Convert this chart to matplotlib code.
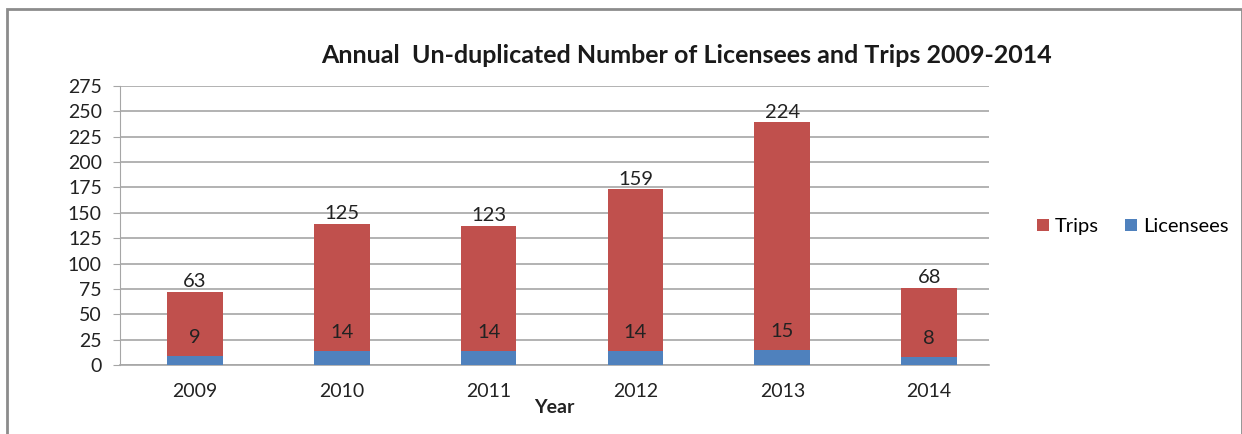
import matplotlib
matplotlib.use('Agg')
import matplotlib.pyplot as plt
from matplotlib.patches import Rectangle
import numpy as np

plt.rcParams['font.family'] = ['Lato', 'DejaVu Sans']

years = ['2009', '2010', '2011', '2012', '2013', '2014']
licensees = [9, 14, 14, 14, 15, 8]
trips = [63, 125, 123, 159, 224, 68]

RED = '#C0504D'
BLUE = '#4F81BD'
GRID = '#A6A6A6'

fig = plt.figure(figsize=(12.42, 4.34), dpi=100)
fig.patch.set_facecolor('white')
ax = fig.add_axes([0.0966, 0.159, 0.700, 0.643])

x = np.arange(len(years))
ax.bar(x, licensees, width=0.38, color=BLUE, label='Licensees', zorder=3)
ax.bar(x, trips, width=0.38, bottom=licensees, color=RED, label='Trips', zorder=3)

for xi, l, t in zip(x, licensees, trips):
    ax.text(xi, l + t + 1.5, str(t), ha='center', va='bottom', fontsize=14.5, color='#222222')
    ax.text(xi, l + 18, str(l), ha='center', va='center', fontsize=14.5, color='#222222')

ax.set_xlim(-0.51, 5.41)
ax.set_ylim(0, 275)
ax.set_yticks(range(0, 276, 25))
ax.set_xticks(x)
ax.set_xticklabels(years)
ax.tick_params(axis='y', labelsize=14, length=5, color=GRID, pad=8, labelcolor='#222222')
ax.tick_params(axis='x', labelsize=14, length=0, pad=13, labelcolor='#222222')
ax.grid(axis='y', color=GRID, linewidth=1.2, zorder=0)
for s in ['top', 'right']:
    ax.spines[s].set_visible(False)
ax.spines['left'].set_color(GRID)
ax.spines['bottom'].set_color(GRID)
ax.spines['bottom'].set_linewidth(1.2)

ax.set_xlabel('Year', fontsize=14, fontweight='bold', labelpad=-1, color='#222222')
fig.text(0.553, 0.872, 'Annual  Un-duplicated Number of Licensees and Trips 2009-2014',
         ha='center', va='center', fontsize=18, fontweight='bold', color='#1a1a1a')

h, lab = ax.get_legend_handles_labels()
fig.legend([h[1], h[0]], [lab[1], lab[0]], loc='center left', bbox_to_anchor=(0.82, 0.478),
           ncol=2, frameon=False, fontsize=14.5, handlelength=0.6, handleheight=0.6,
           handletextpad=0.3, columnspacing=1.3)

fig.patches.append(Rectangle((0.0056, -0.1), 0.9944, 1.08, transform=fig.transFigure,
                             fill=False, edgecolor='#8C8C8C', linewidth=2))

fig.savefig('out.png', dpi=100, facecolor='white')
